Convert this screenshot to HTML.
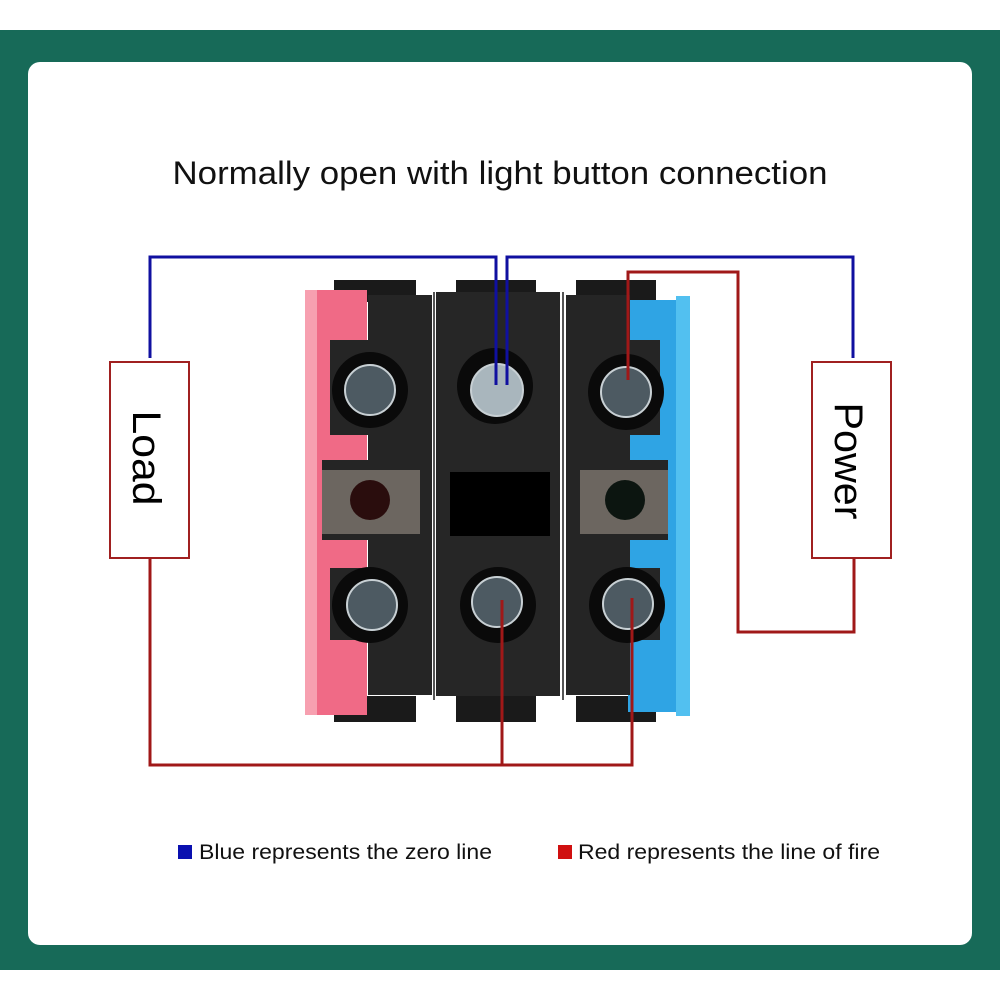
<!DOCTYPE html>
<html><head><meta charset="utf-8"><style>
html,body{margin:0;padding:0;background:#fff;}
svg{display:block;font-family:"Liberation Sans",sans-serif;}
</style></head><body>
<svg width="1000" height="1000" viewBox="0 0 1000 1000" xmlns="http://www.w3.org/2000/svg">
<rect x="0" y="0" width="1000" height="1000" fill="#fff"/>
<rect x="0" y="30" width="1000" height="940" fill="#176a58"/>
<rect x="28" y="62" width="944" height="883" rx="12" fill="#fff"/>
<text x="500" y="184" font-size="32" text-anchor="middle" textLength="655" lengthAdjust="spacingAndGlyphs" fill="#111">Normally open with light button connection</text>

<g>
  <rect x="334" y="280" width="82" height="22" fill="#1a1a1a"/>
  <rect x="456" y="280" width="80" height="22" fill="#1a1a1a"/>
  <rect x="576" y="280" width="80" height="22" fill="#1a1a1a"/>
  <rect x="334" y="696" width="82" height="26" fill="#1a1a1a"/>
  <rect x="456" y="696" width="80" height="26" fill="#1a1a1a"/>
  <rect x="576" y="696" width="80" height="26" fill="#1a1a1a"/>
  <rect x="305" y="290" width="62" height="425" fill="#f06a86"/>
  <rect x="305" y="290" width="12" height="425" fill="#f7a0b0"/>
  <rect x="628" y="300" width="62" height="412" fill="#2fa4e4"/>
  <rect x="676" y="296" width="14" height="420" fill="#52c0f0"/>
  <path d="M368 295 H432 V695 H368 V640 H330 V568 H368 V540 H322 V460 H368 V435 H330 V340 H368 Z" fill="#252525"/>
  <rect x="436" y="292" width="124" height="404" fill="#262626"/>
  <path d="M566 295 H630 V340 H660 V435 H630 V460 H668 V540 H630 V568 H660 V640 H630 V695 H566 Z" fill="#252525"/>
  <line x1="434" y1="292" x2="434" y2="700" stroke="#555" stroke-width="2"/>
  <line x1="563" y1="292" x2="563" y2="700" stroke="#555" stroke-width="2"/>
  <rect x="322" y="470" width="98" height="64" fill="#6c6660"/>
  <circle cx="370" cy="500" r="20" fill="#2a0d0d"/>
  <rect x="450" y="472" width="100" height="64" fill="#000"/>
  <rect x="580" y="470" width="88" height="64" fill="#6c6660"/>
  <circle cx="625" cy="500" r="20" fill="#0c1510"/>
  <g fill="#0a0a0a">
    <circle cx="370" cy="390" r="38"/><circle cx="495" cy="386" r="38"/><circle cx="626" cy="392" r="38"/>
    <circle cx="370" cy="605" r="38"/><circle cx="498" cy="605" r="38"/><circle cx="627" cy="605" r="38"/>
  </g>
  <g fill="#4d5a62" stroke="#c8d0d4" stroke-width="2">
    <circle cx="370" cy="390" r="25"/><circle cx="497" cy="390" r="26" fill="#a9b6bd"/><circle cx="626" cy="392" r="25"/>
    <circle cx="372" cy="605" r="25"/><circle cx="497" cy="602" r="25"/><circle cx="628" cy="604" r="25"/>
  </g>
</g>

<g fill="none" stroke-width="3">
  <polyline points="150,358 150,257 496,257 496,385" stroke="#1010a0"/>
  <polyline points="507,385 507,257 853,257 853,358" stroke="#1010a0"/>
  <polyline points="628,380 628,272 738,272 738,632 854,632 854,558" stroke="#a01818"/>
  <polyline points="150,558 150,765 632,765 632,598" stroke="#a01818"/>
  <polyline points="502,600 502,765" stroke="#a01818"/>
</g>

<rect x="110" y="362" width="79" height="196" fill="#fff" stroke="#a02020" stroke-width="2"/>
<text transform="translate(133,458) rotate(90)" font-size="40" text-anchor="middle" textLength="95" lengthAdjust="spacingAndGlyphs" fill="#000">Load</text>
<rect x="812" y="362" width="79" height="196" fill="#fff" stroke="#a02020" stroke-width="2"/>
<text transform="translate(835,461) rotate(90)" font-size="40" text-anchor="middle" textLength="117" lengthAdjust="spacingAndGlyphs" fill="#000">Power</text>

<rect x="178" y="845" width="14" height="14" fill="#0a10b0"/>
<text x="199" y="859" font-size="21" textLength="293" lengthAdjust="spacingAndGlyphs" fill="#111">Blue represents the zero line</text>
<rect x="558" y="845" width="14" height="14" fill="#d01010"/>
<text x="578" y="859" font-size="21" textLength="302" lengthAdjust="spacingAndGlyphs" fill="#111">Red represents the line of fire</text>
</svg>
</body></html>
